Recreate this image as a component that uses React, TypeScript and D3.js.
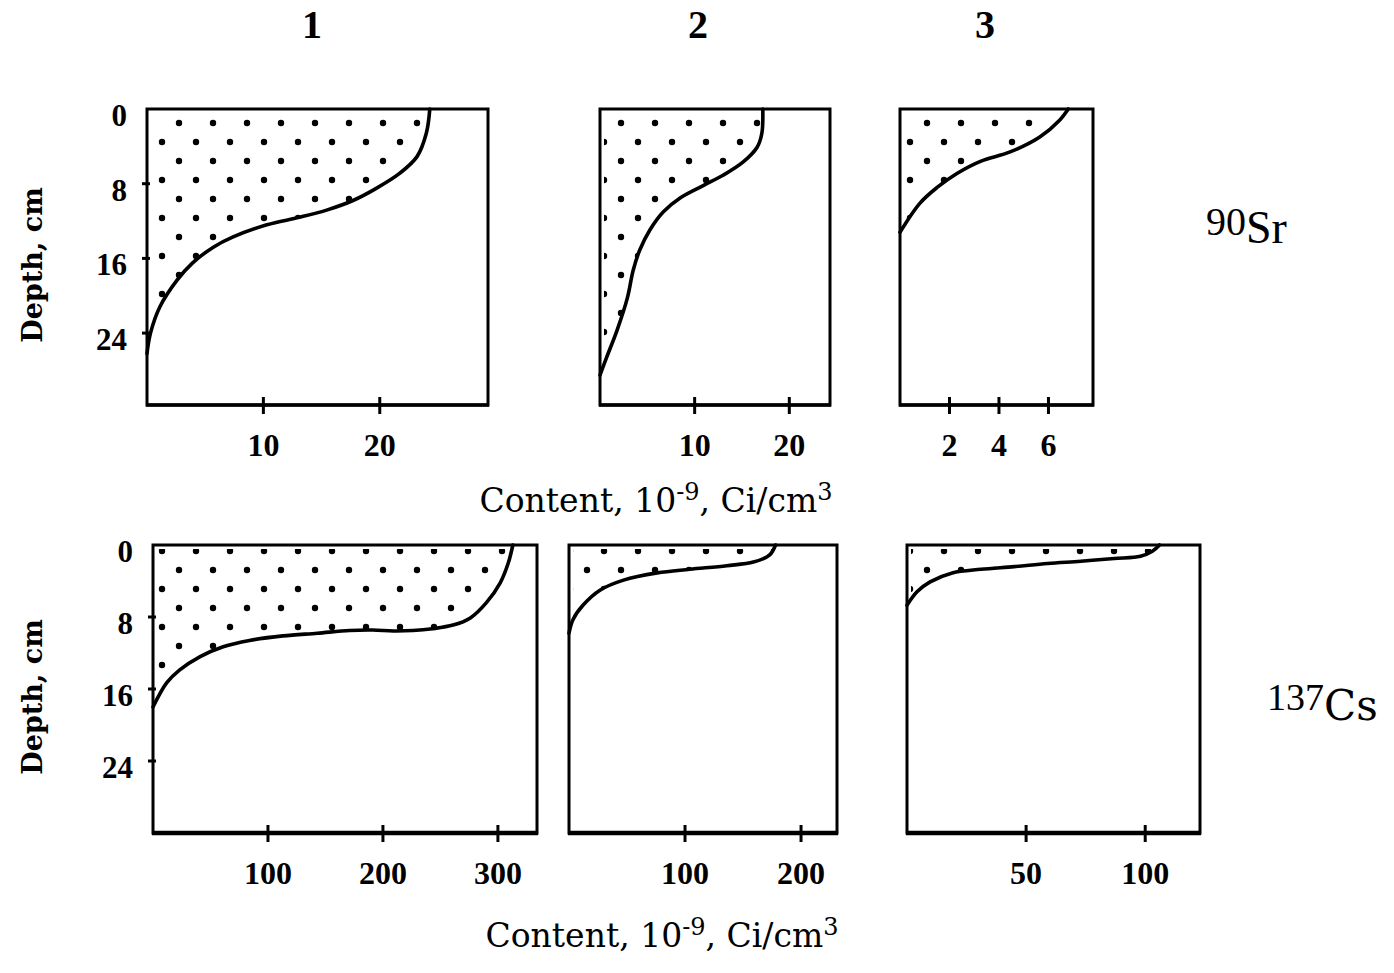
import React from "react";
import * as d3 from "d3";

// ---------- data ----------
const columnLabels = ["1", "2", "3"];
const isotopeLabels = [
  { mass: "90", el: "Sr" },
  { mass: "137", el: "Cs" },
];
const depthTicks = [0, 8, 16, 24];

// 90Sr, site 1
const sr1Depth = [0, 2.6, 5.1, 6.9, 8.5, 9.8, 10.8, 11.6, 12.4, 13.7, 14.8, 16.5, 18.3, 21.2, 24.0, 26.2];
const sr1Value = [24.3, 24.0, 23.2, 21.7, 19.7, 17.7, 15.5, 13.1, 10.3, 7.4, 5.7, 3.9, 2.6, 1.1, 0.3, 0];
// 90Sr, site 2
const sr2Depth = [0, 2.6, 4.1, 5.7, 7.1, 8.2, 9.5, 11.0, 12.9, 15.1, 17.3, 20.2, 23.7, 26.6, 28.5];
const sr2Value = [17.2, 17.1, 16.6, 15.1, 13.0, 10.9, 8.5, 6.7, 5.3, 4.2, 3.5, 2.9, 1.8, 0.7, 0];
// 90Sr, site 3
const sr3Depth = [0, 1.2, 3.0, 4.6, 5.6, 6.9, 8.4, 10.1, 13.2];
const sr3Value = [6.8, 6.45, 5.65, 4.45, 3.25, 2.3, 1.5, 0.8, 0];
// 137Cs, site 1
const cs1Depth = [0, 2.0, 4.2, 6.4, 8.1, 8.9, 9.3, 9.5, 9.55, 9.45, 9.5, 9.8, 10.1, 10.6, 11.3, 12.4, 13.9, 15.3, 18.0];
const cs1Value = [313, 309, 302, 290, 276, 261, 243, 226, 209, 191, 171, 143, 113, 84, 61, 41, 23, 12, 0];
// 137Cs, site 2
const cs2Depth = [0, 1.1, 1.9, 2.3, 2.7, 3.1, 3.9, 5.0, 6.7, 8.3, 9.8];
const cs2Value = [178, 173, 159, 136, 104, 76, 47, 27, 12, 3.4, 0];
// 137Cs, site 3
const cs3Depth = [0, 0.7, 1.25, 1.5, 1.8, 2.05, 2.4, 2.7, 3.1, 4.1, 5.2, 6.7];
const cs3Value = [106, 103, 98, 87, 73, 59, 45, 31, 19, 9.7, 4.2, 0];

const sr1Ticks = [10, 20];
const sr2Ticks = [10, 20];
const sr3Ticks = [2, 4, 6];
const cs1Ticks = [100, 200, 300];
const cs2Ticks = [100, 200];
const cs3Ticks = [50, 100];

const xAxisTitle = "Content, ";
const depthTitle = "Depth, cm";

// ---------- layout ----------
type Panel = {
  key: string;
  depth: number[];
  value: number[];
  ticks: number[];
  xMax: number;
  x0: number;
  x1: number;
  row: number;
  showDepth: boolean;
};

const rows = [
  { y0: 109, y1: 405, dMax: 31.7, axisW: 3.5, dotShift: 0 },
  { y0: 545, y1: 833, dMax: 32, axisW: 4.5, dotShift: 11 },
];

const panels: Panel[] = [
  { key: "sr1", depth: sr1Depth, value: sr1Value, ticks: sr1Ticks, xMax: 29.3, x0: 147, x1: 488, row: 0, showDepth: true },
  { key: "sr2", depth: sr2Depth, value: sr2Value, ticks: sr2Ticks, xMax: 24.3, x0: 600, x1: 830, row: 0, showDepth: false },
  { key: "sr3", depth: sr3Depth, value: sr3Value, ticks: sr3Ticks, xMax: 7.8, x0: 900, x1: 1093, row: 0, showDepth: false },
  { key: "cs1", depth: cs1Depth, value: cs1Value, ticks: cs1Ticks, xMax: 334, x0: 153, x1: 537, row: 1, showDepth: true },
  { key: "cs2", depth: cs2Depth, value: cs2Value, ticks: cs2Ticks, xMax: 231, x0: 569, x1: 837, row: 1, showDepth: false },
  { key: "cs3", depth: cs3Depth, value: cs3Value, ticks: cs3Ticks, xMax: 123, x0: 907, x1: 1200, row: 1, showDepth: false },
];

const DIGITS = "'Liberation Serif', 'Times New Roman', serif";
const TEXT = "'DejaVu Serif', serif";

function PanelView({ p }: { p: Panel }) {
  const r = rows[p.row];
  const x = d3.scaleLinear().domain([0, p.xMax]).range([p.x0, p.x1]);
  const y = d3.scaleLinear().domain([0, r.dMax]).range([r.y0, r.y1]);
  const pts = p.depth.map((d, i) => ({ d, v: p.value[i] }));
  const line = d3
    .line<{ d: number; v: number }>()
    .x((q) => x(q.v))
    .y((q) => y(q.d))
    .curve(d3.curveCatmullRom.alpha(0.5));
  const area = d3
    .area<{ d: number; v: number }>()
    .x0(x(0))
    .x1((q) => x(q.v))
    .y((q) => y(q.d))
    .curve(d3.curveCatmullRom.alpha(0.5));
  const clipId = `clip-${p.key}`;
  return (
    <g>
      <clipPath id={clipId}>
        <rect x={p.x0 + 4} y={r.y0 + 4} width={p.x1 - p.x0 - 8} height={r.y1 - r.y0 - 8} />
      </clipPath>
      <path d={area(pts) || ""} fill={`url(#dots${p.row})`} clipPath={`url(#${clipId})`} />
      <rect
        x={p.x0}
        y={r.y0}
        width={p.x1 - p.x0}
        height={r.y1 - r.y0}
        fill="none"
        stroke="#000"
        strokeWidth={3}
      />
      <line x1={p.x0 - 1} x2={p.x1 + 1} y1={r.y1} y2={r.y1} stroke="#000" strokeWidth={r.axisW} />
      <path d={line(pts) || ""} fill="none" stroke="#000" strokeWidth={3.6} strokeLinecap="round" />
      {p.ticks.map((t) => (
        <g key={t}>
          <line x1={x(t)} x2={x(t)} y1={r.y1 - 8} y2={r.y1 + 9} stroke="#000" strokeWidth={3} />
          <text
            x={x(t)}
            y={r.y1 + 51}
            textAnchor="middle"
            fontFamily={DIGITS}
            fontWeight="bold"
            fontSize={32}
            fill="#000"
          >
            {t}
          </text>
        </g>
      ))}
      {p.showDepth &&
        depthTicks.map((t) => (
          <g key={`d${t}`}>
            {t > 0 && (
              <line x1={p.x0 - 5} x2={p.x0 + 3} y1={y(t)} y2={y(t)} stroke="#000" strokeWidth={3} />
            )}
            <text
              x={p.x0 - 20}
              y={y(t) + 17}
              textAnchor="end"
              fontFamily={DIGITS}
              fontWeight="bold"
              fontSize={31}
              fill="#000"
            >
              {t}
            </text>
          </g>
        ))}
      {p.showDepth && (
        <text
          transform={`translate(42, ${(r.y0 + r.y1) / 2 + 8}) rotate(-90)`}
          textAnchor="middle"
          fontFamily={TEXT}
          fontWeight="bold"
          fontSize={27}
          fill="#000"
        >
          {depthTitle}
        </text>
      )}
    </g>
  );
}

function ContentTitle({ cx, y }: { cx: number; y: number }) {
  return (
    <text x={cx} y={y} textAnchor="middle" fontFamily={TEXT} fontSize={33} fill="#000">
      {xAxisTitle}10
      <tspan dy={-12} fontSize={24}>-9</tspan>
      <tspan dy={12}>, Ci/cm</tspan>
      <tspan dy={-12} fontSize={24}>3</tspan>
    </text>
  );
}

export default function App() {
  const colX = [312, 698, 985];
  return (
    <svg
      width={1394}
      height={973}
      style={{ position: "absolute", left: 0, top: 0, display: "block", background: "#fff" }}
    >
      <defs>
        {rows.map((r, i) => (
          <pattern
            key={i}
            id={`dots${i}`}
            patternUnits="userSpaceOnUse"
            width={34}
            height={38}
            patternTransform={`translate(0, ${r.y0 + r.dotShift})`}
          >
            <circle cx={9} cy={14} r={3.2} fill="#000" />
            <circle cx={26} cy={33} r={3.2} fill="#000" />
          </pattern>
        ))}
      </defs>
      <rect x={0} y={0} width={1394} height={973} fill="#fff" />
      {columnLabels.map((c, i) => (
        <text
          key={c}
          x={colX[i]}
          y={38}
          textAnchor="middle"
          fontFamily={DIGITS}
          fontWeight="bold"
          fontSize={40}
          fill="#000"
        >
          {c}
        </text>
      ))}
      {panels.map((p) => (
        <PanelView key={p.key} p={p} />
      ))}
      <ContentTitle cx={656} y={512} />
      <ContentTitle cx={662} y={947} />
      <text x={1206} y={235} fontFamily={DIGITS} fontSize={40} fill="#000">
        {isotopeLabels[0].mass}
        <tspan dy={8} fontSize={46}>{isotopeLabels[0].el}</tspan>
      </text>
      <text x={1267} y={710} fontFamily={DIGITS} fontSize={38} fill="#000">
        {isotopeLabels[1].mass}
        <tspan dy={10} fontFamily={TEXT} fontSize={42}>{isotopeLabels[1].el}</tspan>
      </text>
    </svg>
  );
}
